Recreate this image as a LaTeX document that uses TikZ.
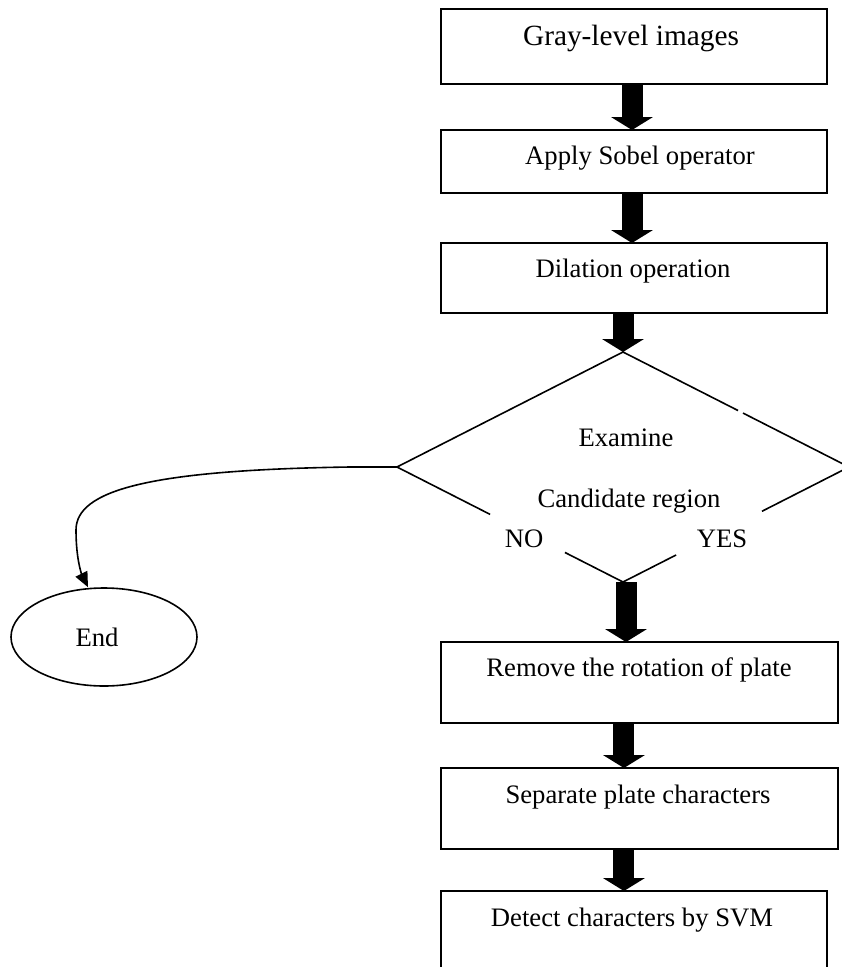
\documentclass[tikz,border=0pt]{standalone}
\usepackage{fontspec}
\setmainfont{Liberation Serif}
\usetikzlibrary{shapes.geometric,arrows.meta,calc}
\newlength\ux
\setlength\ux{0.45pt}
\begin{document}
\begin{tikzpicture}[x=0.45pt,y=-0.45pt,
  font=\fontsize{12}{14}\selectfont,
  stepbox/.style={draw,line width=2\ux,rectangle,inner sep=0,outer sep=0},
  txt/.style={inner sep=0,text height=0.68em,text depth=0.22em},
  blockarrow/.style={line width=9.45pt,-{Triangle[width=18.5pt,length=5.8pt]}},
  edge/.style={line width=1.6\ux},
  thinarrow/.style={line width=0.72pt,-{Triangle[width=5.85pt,length=6.75pt]}}]
\useasboundingbox (0,0) rectangle (842,967);
\clip (0,0) rectangle (842,967);
% boxes
\node[stepbox,minimum width=386\ux,minimum height=75\ux] (b1) at (634,46.5) {};
\node[stepbox,minimum width=386\ux,minimum height=63\ux] (b2) at (634,161.5) {};
\node[stepbox,minimum width=386\ux,minimum height=70\ux] (b3) at (634,278) {};
\node[stepbox,minimum width=397\ux,minimum height=81\ux] (b4) at (639.5,682.5) {};
\node[stepbox,minimum width=397\ux,minimum height=81\ux] (b5) at (639.5,808.5) {};
\node[stepbox,minimum width=386\ux,minimum height=109\ux] (b6) at (634,945.5) {};
% box texts
\node[txt,font=\fontsize{13.2}{15}\selectfont] (t1) at (631,40) {Gray-level images};
\node[txt] (t2) at (640,159) {Apply Sobel operator};
\node[txt] (t3) at (633,272) {Dilation operation};
\node[txt] (t4) at (639,671) {Remove the rotation of plate};
\node[txt] (t5) at (638,798) {Separate plate characters};
\node[txt] (t6) at (632,921) {Detect characters by SVM};
% decision
\node[diamond,draw=none,minimum width=452\ux,minimum height=230\ux,inner sep=0,outer sep=0] (d) at (623,467) {};
\draw[edge] (d.west) -- (d.north) -- ($(d.north)!0.509!(d.east)$);
\draw[edge] ($(d.north)!0.531!(d.east)$) -- (d.east) -- ($(d.east)!0.385!(d.south)$);
\draw[edge] ($(d.east)!0.765!(d.south)$) -- (d.south) -- ($(d.south)!0.257!(d.west)$);
\draw[edge] ($(d.south)!0.588!(d.west)$) -- (d.west);
\node[txt] (ex) at (626,441) {Examine};
\node[txt] (cr) at (629,502) {Candidate region};
\node[txt] (no) at (524,542) {NO};
\node[txt] (yes) at (722,542) {YES};
% end
\node[ellipse,draw,line width=1.6\ux,minimum width=186\ux,minimum height=98\ux,inner sep=0] (end) at (104,637) {End\hspace*{14\ux}};
% block arrows
\draw[blockarrow] ([xshift=-0.9pt]b1.south) -- ([xshift=-0.9pt]b1.south |- b2.north);
\draw[blockarrow] ([xshift=-0.9pt]b2.south) -- ([xshift=-0.9pt]b2.south |- b3.north);
\draw[blockarrow] (b3.south -| d.north) -- (d.north);
\draw[blockarrow] ([xshift=1.35pt]d.south) -- ([xshift=1.35pt]d.south |- b4.north);
\draw[blockarrow] ([xshift=-7pt]b4.south) -- ([xshift=-7pt]b4.south |- b5.north);
\draw[blockarrow] ([xshift=-7pt]b5.south) -- ([xshift=-7pt]b5.south |- b6.north);
% NO branch
\draw[thinarrow] (d.west) -- ++(-47,0) .. controls (150,470) and (76,490) .. (76,530)
  .. controls (76,560) and (82,575) .. ([xshift=-7.2pt]end.north);
\end{tikzpicture}
\end{document}
